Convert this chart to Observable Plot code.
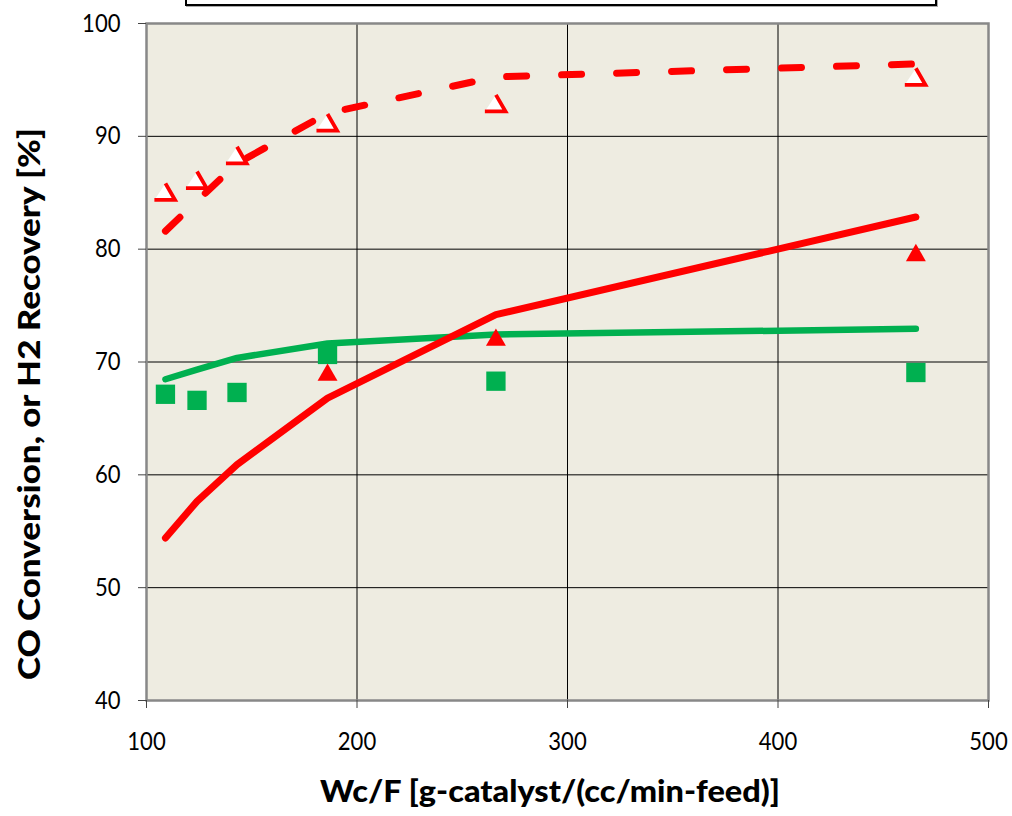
<!DOCTYPE html>
<html>
<head>
<meta charset="utf-8">
<script src="https://cdn.jsdelivr.net/npm/d3@7"></script>
<script src="https://cdn.jsdelivr.net/npm/@observablehq/plot@0.6"></script>
<style>
  html, body { margin: 0; padding: 0; background: white; overflow: hidden; }
  #wrap { position: relative; width: 1012px; height: 816px; }
  #legendbox { position: absolute; left: 185px; top: -40px; width: 748px; height: 42px;
    border: 2.5px solid black; box-shadow: 1px 1px 0 #aaa; background: white; }
</style>
</head>
<body>
<div id="wrap"><div id="chart"></div><div id="legendbox"></div></div>
<script>
// ---- data ----
const wcf = [109, 124, 143, 186, 266, 465.5];
const coConversionModel = [54.4, 57.65, 60.9, 66.8, 74.2, 82.85];      // red solid line
const h2RecoveryModel   = [81.6, 84.27, 87.6, 92.05, 95.27, 96.42];    // red dashed line
const greenModel        = [68.47, 69.33, 70.36, 71.64, 72.44, 72.94];  // green line
const greenData         = [67.14, 66.6, 67.3, 70.67, 68.3, 69.07];     // green squares
const h2RecoveryData    = [84.85, 85.9, 88.1, 91.0, 92.7, 95.05];      // open red triangles
const coDataX           = [186, 266, 465.5];
const coConversionData  = [68.85, 71.95, 79.45];                      // filled red triangles
const xTicks = [100, 200, 300, 400, 500];
const yTicks = [40, 50, 60, 70, 80, 90, 100];
const xTitle = "Wc/F [g-catalyst/(cc/min-feed)]";
const yTitle = "CO Conversion, or H2 Recovery [%]";

const rows = (xsArr, ysArr) => xsArr.map((x, i) => ({x, y: ysArr[i]}));

const openTriangle = {
  draw(ctx, size) {
    const s = Math.sqrt(size * 4 / Math.sqrt(3));
    const h = s * Math.sqrt(3) / 2;
    ctx.moveTo(0, -2 * h / 3);
    ctx.lineTo(s / 2, h / 3);
    ctx.lineTo(-s / 2 - 1.5, h / 3);
  }
};

const chart = Plot.plot({
  width: 1012, height: 816,
  marginLeft: 146, marginRight: 24, marginTop: 23, marginBottom: 116,
  style: {fontFamily: "Lato, sans-serif", fontSize: "25px", color: "black", background: "transparent", overflow: "visible"},
  x: {domain: [100, 500], label: null},
  y: {domain: [40, 100], label: null},
  marks: [
    Plot.frame({fill: "#EEECE1"}),
    Plot.gridX({ticks: [200, 300, 400], stroke: "#000", strokeOpacity: 1, strokeWidth: 1}),
    Plot.gridY({ticks: [50, 60, 70, 80, 90], stroke: "#000", strokeOpacity: 1, strokeWidth: 1}),
    Plot.frame({stroke: "#888", strokeWidth: 2.5}),
    Plot.axisX({ticks: xTicks, tickSize: 8, tickPadding: 24, stroke: "#444", fontSize: 25, label: null}),
    Plot.axisY({ticks: yTicks, tickSize: 8, tickPadding: 18, stroke: "#444", fontSize: 25, label: null}),
    Plot.line(rows(wcf, greenModel), {x: "x", y: "y", stroke: "#00B050", strokeWidth: 6.5, strokeLinecap: "round", strokeLinejoin: "round"}),
    Plot.line(rows(wcf, coConversionModel), {x: "x", y: "y", stroke: "#FF0000", strokeWidth: 7, strokeLinecap: "round", strokeLinejoin: "round"}),
    Plot.dot(rows(wcf, greenData), {x: "x", y: "y", symbol: "square", r: 10.9, fill: "#00B050", stroke: "none"}),
    Plot.dot(rows(coDataX, coConversionData), {x: "x", y: "y", symbol: "triangle", r: 7.4, fill: "#FF0000", stroke: "none"}),
    Plot.dot(rows(wcf, h2RecoveryData), {x: "x", y: "y", symbol: openTriangle, r: 7.1, fill: "white", stroke: "#FF0000", strokeWidth: 3.8}),
    Plot.line(rows(wcf, h2RecoveryModel), {x: "x", y: "y", stroke: "#FF0000", strokeWidth: 7, strokeDasharray: "20,35", strokeLinecap: "round", strokeLinejoin: "round"})
  ]
});

const svg = d3.select(chart);
// narrow the tick labels to the reference's (Calibri-like) proportions
svg.selectAll("g[aria-label='x-axis tick label'] text, g[aria-label='y-axis tick label'] text")
  .each(function () {
    const t = d3.select(this);
    const n = this.textContent.length;
    t.attr("textLength", n * 12.8).attr("lengthAdjust", "spacingAndGlyphs");
  });
svg.append("text")
  .attr("x", 550).attr("y", 802)
  .attr("text-anchor", "middle")
  .attr("font-family", "Lato, sans-serif").attr("font-weight", "900").attr("font-size", 31)
  .attr("fill", "black")
  .attr("textLength", 460).attr("lengthAdjust", "spacingAndGlyphs")
  .text(xTitle);
svg.append("text")
  .attr("transform", "translate(40,404) rotate(-90)")
  .attr("text-anchor", "middle")
  .attr("font-family", "Lato, sans-serif").attr("font-weight", "900").attr("font-size", 31)
  .attr("fill", "black")
  .attr("textLength", 552).attr("lengthAdjust", "spacingAndGlyphs")
  .text(yTitle);

document.getElementById("chart").appendChild(chart);
</script>
</body>
</html>
